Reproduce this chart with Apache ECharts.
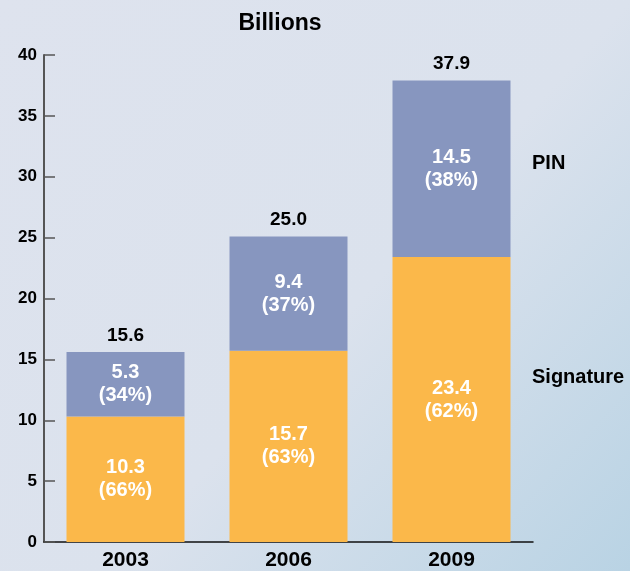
<!DOCTYPE html>
<html><head><meta charset="utf-8">
<script src="https://cdn.jsdelivr.net/npm/echarts@6/dist/echarts.min.js"></script>
<style>html,body{margin:0;padding:0;}#c{width:630px;height:571px;}</style>
</head><body><div id="c"></div>
<script>
var categories = ['2003', '2006', '2009'];
var signature = [10.3, 15.7, 23.4];
var signaturePct = ['66%', '63%', '62%'];
var pin = [5.3, 9.4, 14.5];
var pinPct = ['34%', '37%', '38%'];
var totals = ['15.6', '25.0', '37.9'];
var yTicks = [0, 5, 10, 15, 20, 25, 30, 35, 40];

var FONT = '"Liberation Sans", Arial, sans-serif';
var chart = echarts.init(document.getElementById('c'), null, {renderer: 'canvas'});
var innerLabel = function (pcts) {
  return {
    show: true, position: 'inside', color: '#ffffff', fontFamily: FONT,
    fontWeight: 'bold', fontSize: 20, lineHeight: 23,
    formatter: function (p) { return p.value.toFixed(1) + '\n(' + pcts[p.dataIndex] + ')'; }
  };
};
chart.setOption({
  backgroundColor: {
    type: 'linear', x: 0, y: 0, x2: 1, y2: 1,
    colorStops: [{offset: 0, color: '#dee3ee'}, {offset: 0.55, color: '#dbe2ed'}, {offset: 1, color: '#b9d3e4'}]
  },
  animation: false,
  title: {
    text: 'Billions', left: 275, top: 7, textAlign: 'center',
    textStyle: {fontFamily: FONT, fontWeight: 'bold', fontSize: 23, color: '#000'}
  },
  grid: {left: 44, top: 55, width: 489, height: 489, containLabel: false},
  xAxis: {
    type: 'category', data: categories,
    axisLine: {lineStyle: {color: '#111', width: 1.5}},
    axisTick: {show: false},
    axisLabel: {fontFamily: FONT, fontWeight: 'bold', fontSize: 21, color: '#000', margin: 8}
  },
  yAxis: {
    type: 'value', min: 0, max: 40, interval: 5,
    axisLine: {show: true, lineStyle: {color: '#555', width: 2}},
    axisTick: {show: true, inside: true, length: 11, lineStyle: {color: '#555', width: 1.5}},
    splitLine: {show: false},
    axisLabel: {fontFamily: FONT, fontWeight: 'bold', fontSize: 17, color: '#000', margin: 7,
      formatter: function (v) { return yTicks.indexOf(v) >= 0 ? String(v) : ''; }}
  },
  series: [
    {name: 'Signature', type: 'bar', stack: 's', data: signature, barWidth: 118,
     itemStyle: {color: '#fbb84a'}, label: innerLabel(signaturePct)},
    {name: 'PIN', type: 'bar', stack: 's', data: pin, barWidth: 118,
     itemStyle: {color: '#8796bf'}, label: innerLabel(pinPct)},
    {name: 'Total', type: 'bar', stack: 's', data: [0, 0, 0], barWidth: 118,
     itemStyle: {color: 'transparent'},
     label: {show: true, position: 'top', distance: 7, color: '#000', fontFamily: FONT,
       fontWeight: 'bold', fontSize: 19,
       formatter: function (p) { return totals[p.dataIndex]; }}}
  ],
  graphic: [
    {type: 'text', left: 532, top: 153, style: {text: 'PIN', font: 'bold 20px ' + FONT, fill: '#000'}},
    {type: 'text', left: 532, top: 367, style: {text: 'Signature', font: 'bold 20px ' + FONT, fill: '#000'}}
  ]
});
</script>
</body></html>
